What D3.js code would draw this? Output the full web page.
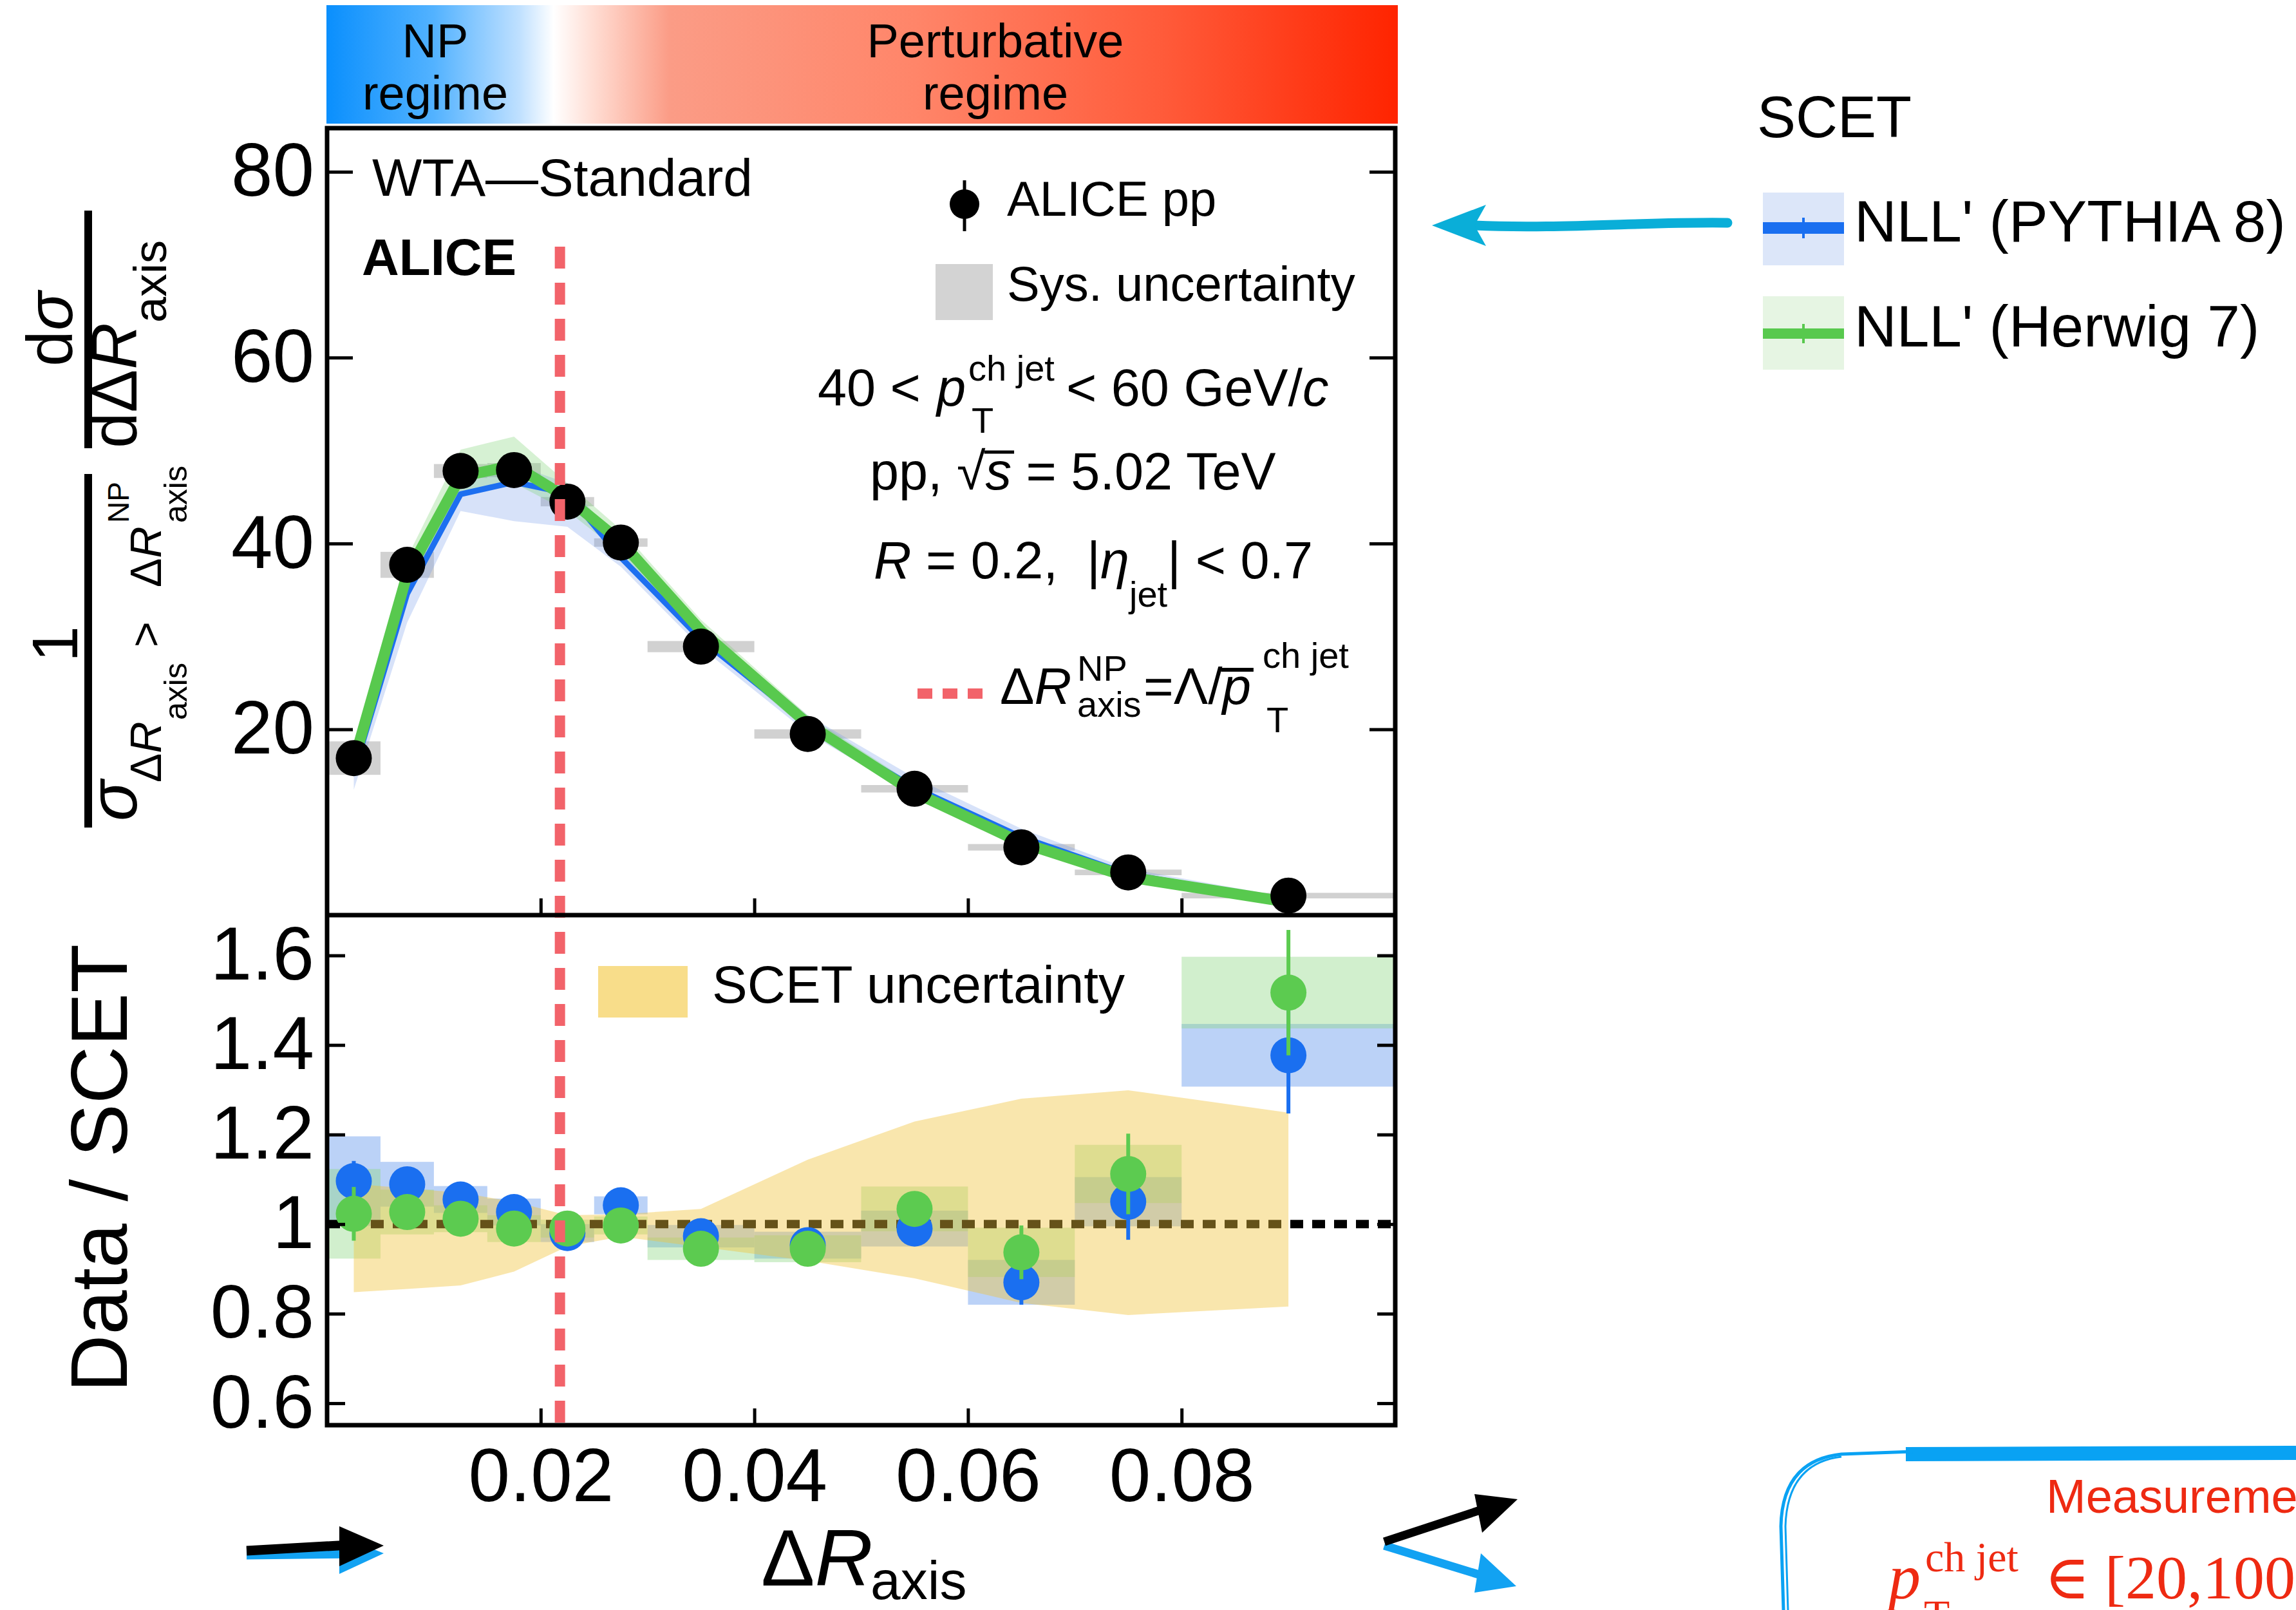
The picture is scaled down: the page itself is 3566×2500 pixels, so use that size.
<!DOCTYPE html>
<html>
<head>
<meta charset="utf-8">
<script src="https://cdn.jsdelivr.net/npm/d3@7"></script>
<style>
body { margin: 0; background: #fff; }
svg text { font-family: "Liberation Sans", Arial, Helvetica, sans-serif; fill: #000; }
</style>
</head>
<body>
<svg id="chart" width="3566" height="2500"></svg>
<script>
// Delta R_axis bins
var binLo  = [0, 0.005, 0.01, 0.015, 0.02, 0.025, 0.03, 0.04, 0.05, 0.06, 0.07, 0.08];
var binHi  = [0.005, 0.01, 0.015, 0.02, 0.025, 0.03, 0.04, 0.05, 0.06, 0.07, 0.08, 0.1];
var binMid = [0.0025, 0.0075, 0.0125, 0.0175, 0.0225, 0.0275, 0.035, 0.045, 0.055, 0.065, 0.075, 0.09];

// ALICE pp data, top panel
var alicePP  = [16.9, 37.7, 47.8, 47.9, 44.5, 40.1, 28.9, 19.5, 13.6, 7.3, 4.6, 2.1];
var aliceSys = [1.8, 1.4, 0.75, 0.75, 0.5, 0.45, 0.6, 0.5, 0.4, 0.35, 0.3, 0.3];

// SCET NLL' predictions
var pythiaMid  = [15.4, 34.6, 45.3, 46.6, 45.4, 38.5, 29.7, 20.5, 13.7, 8.4, 4.4, 1.5];
var pythiaLow  = [13.5, 31.5, 43.5, 42.4, 41.8, 37.5, 28.8, 19.6, 12.9, 7.7, 3.9, 1.2];
var pythiaHigh = [16.8, 36.5, 47.0, 48.5, 46.5, 40.0, 31.0, 21.5, 14.8, 9.3, 5.0, 1.9];
var herwigMid  = [16.5, 36.7, 47.2, 48.4, 44.9, 40.2, 30.6, 20.6, 13.2, 7.8, 4.1, 1.4];
var herwigLow  = [15.3, 35.0, 45.5, 46.5, 43.5, 39.0, 29.6, 19.8, 12.6, 7.3, 3.8, 1.1];
var herwigHigh = [18.0, 38.5, 50.1, 51.5, 46.5, 41.5, 31.8, 21.5, 14.0, 8.4, 4.6, 1.8];

// Data / SCET ratios
var ratioPythia    = [1.096, 1.089, 1.055, 1.027, 0.98, 1.042, 0.973, 0.953, 0.99, 0.87, 1.05, 1.377];
var ratioPythiaErr = [0.045, 0.03, 0.02, 0.02, 0.02, 0.02, 0.015, 0.015, 0.03, 0.05, 0.085, 0.13];
var ratioPythiaSys = [0.10, 0.05, 0.03, 0.03, 0.02, 0.02, 0.025, 0.03, 0.04, 0.05, 0.055, 0.07];
var ratioHerwig    = [1.023, 1.027, 1.012, 0.99, 0.99, 0.997, 0.945, 0.945, 1.034, 0.937, 1.112, 1.517];
var ratioHerwigErr = [0.06, 0.035, 0.02, 0.02, 0.02, 0.02, 0.015, 0.015, 0.03, 0.06, 0.09, 0.14];
var ratioHerwigSys = [0.10, 0.05, 0.03, 0.03, 0.02, 0.02, 0.025, 0.03, 0.05, 0.055, 0.065, 0.08];
var scetUncLow  = [0.848, 0.855, 0.863, 0.894, 0.95, 0.972, 0.949, 0.918, 0.879, 0.824, 0.797, 0.816];
var scetUncHigh = [1.09, 1.08, 1.07, 1.05, 1.02, 1.022, 1.034, 1.144, 1.229, 1.28, 1.299, 1.249];

var npCut = 0.0218;
var topTicks = [20, 40, 60, 80];
var ratioTicks = [0.6, 0.8, 1, 1.2, 1.4, 1.6];
var xTicks = [0.02, 0.04, 0.06, 0.08];

var svg = d3.select("#chart");
var defs = svg.append("defs");

var x = d3.scaleLinear().domain([0, 0.1]).range([508, 2167]);
var yTop = d3.scaleLinear().domain([0, 84.7]).range([1421, 199]);
var yRat = d3.scaleLinear().domain([0.551, 1.69]).range([2213, 1421]);

var ids = d3.range(binMid.length);

// ---- regime bar
var grad = defs.append("linearGradient").attr("id", "regime")
    .attr("x1", "0%").attr("x2", "100%").attr("y1", "0%").attr("y2", "0%");
[[0, "#0a8ffd"], [0.1, "#52b2ff"], [0.18, "#bfe0ff"], [0.212, "#ffffff"], [0.25, "#ffdcd2"],
 [0.32, "#fb9c86"], [0.55, "#ff8569"], [0.78, "#ff5b3a"], [1, "#ff2400"]].forEach(function(s) {
    grad.append("stop").attr("offset", s[0]).attr("stop-color", s[1]);
});
svg.append("rect").attr("x", 507).attr("y", 8).attr("width", 1664).attr("height", 184)
    .attr("fill", "url(#regime)");

function txt(px, py, s, size, o) {
    o = o || {};
    return svg.append("text").attr("x", px).attr("y", py).attr("font-size", size)
        .attr("font-style", o.italic ? "italic" : null)
        .attr("font-weight", o.bold ? "bold" : null)
        .attr("text-anchor", o.anchor || "start")
        .style("fill", o.fill || "#000")
        .text(s);
}
// two-line regime labels
function twoLines(cx, a, b, size) {
    var t = svg.append("text").attr("font-size", size).attr("text-anchor", "middle");
    t.append("tspan").attr("x", cx).attr("y", 89).text(a);
    t.append("tspan").attr("x", cx).attr("y", 170).text(b);
}
twoLines(676, "NP", "regime", 74);
twoLines(1546, "Perturbative", "regime", 74);

// ---- top panel
var gTop = svg.append("g");

gTop.selectAll("rect.sys").data(ids).enter().append("rect")
    .attr("class", "sys")
    .attr("x", function(i) { return x(binLo[i]); })
    .attr("width", function(i) { return x(binHi[i]) - x(binLo[i]); })
    .attr("y", function(i) { return yTop(alicePP[i] + aliceSys[i]); })
    .attr("height", function(i) { return yTop(alicePP[i] - aliceSys[i]) - yTop(alicePP[i] + aliceSys[i]); })
    .attr("fill", "#c9c9c9").attr("opacity", 0.85);

var band = function(lo, hi) {
    return d3.area().x(function(i) { return x(binMid[i]); })
        .y0(function(i) { return yTop(lo[i]); })
        .y1(function(i) { return yTop(hi[i]); });
};
gTop.append("path").attr("d", band(pythiaLow, pythiaHigh)(ids))
    .attr("fill", "rgb(110,150,232)").attr("opacity", 0.28);
gTop.append("path").attr("d", band(herwigLow, herwigHigh)(ids))
    .attr("fill", "rgb(120,210,110)").attr("opacity", 0.3);

var curve = function(vals) {
    return d3.line().x(function(i) { return x(binMid[i]); }).y(function(i) { return yTop(vals[i]); });
};
gTop.append("path").attr("d", curve(pythiaMid)(ids))
    .attr("fill", "none").attr("stroke", "#1d6ff0").attr("stroke-width", 9).attr("stroke-linejoin", "round");
gTop.append("path").attr("d", curve(herwigMid)(ids))
    .attr("fill", "none").attr("stroke", "#58c94e").attr("stroke-width", 17).attr("stroke-linejoin", "round");

// ---- ratio panel
var gRat = svg.append("g");

gRat.selectAll("rect.bsys").data(ids).enter().append("rect")
    .attr("x", function(i) { return x(binLo[i]); })
    .attr("width", function(i) { return x(binHi[i]) - x(binLo[i]); })
    .attr("y", function(i) { return yRat(ratioPythia[i] + ratioPythiaSys[i]); })
    .attr("height", function(i) { return yRat(ratioPythia[i] - ratioPythiaSys[i]) - yRat(ratioPythia[i] + ratioPythiaSys[i]); })
    .attr("fill", "rgb(120,165,240)").attr("opacity", 0.5);
gRat.selectAll("rect.gsys").data(ids).enter().append("rect")
    .attr("x", function(i) { return x(binLo[i]); })
    .attr("width", function(i) { return x(binHi[i]) - x(binLo[i]); })
    .attr("y", function(i) { return yRat(ratioHerwig[i] + ratioHerwigSys[i]); })
    .attr("height", function(i) { return yRat(ratioHerwig[i] - ratioHerwigSys[i]) - yRat(ratioHerwig[i] + ratioHerwigSys[i]); })
    .attr("fill", "rgb(140,215,130)").attr("opacity", 0.4);

gRat.append("line")
    .attr("x1", x(0)).attr("x2", x(0.1)).attr("y1", yRat(1)).attr("y2", yRat(1))
    .attr("stroke", "#000").attr("stroke-width", 13).attr("stroke-dasharray", "20,14");

gRat.append("path")
    .attr("d", d3.area().x(function(i) { return x(binMid[i]); })
        .y0(function(i) { return yRat(scetUncLow[i]); })
        .y1(function(i) { return yRat(scetUncHigh[i]); })(ids))
    .attr("fill", "rgb(240,195,60)").attr("opacity", 0.42);

// NP boundary
svg.append("line")
    .attr("x1", x(npCut)).attr("x2", x(npCut)).attr("y1", 383).attr("y2", 2213)
    .attr("stroke", "#f2636a").attr("stroke-width", 16).attr("stroke-dasharray", "34,22");

// ratio markers
function ratioMarks(vals, errs, col) {
    var g = gRat.append("g");
    g.selectAll("line").data(ids).enter().append("line")
        .attr("x1", function(i) { return x(binMid[i]); })
        .attr("x2", function(i) { return x(binMid[i]); })
        .attr("y1", function(i) { return yRat(vals[i] - errs[i]); })
        .attr("y2", function(i) { return yRat(vals[i] + errs[i]); })
        .attr("stroke", col).attr("stroke-width", 6);
    g.selectAll("circle").data(ids).enter().append("circle")
        .attr("cx", function(i) { return x(binMid[i]); })
        .attr("cy", function(i) { return yRat(vals[i]); })
        .attr("r", 28).attr("fill", col);
}
ratioMarks(ratioPythia, ratioPythiaErr, "#1a6ff0");
ratioMarks(ratioHerwig, ratioHerwigErr, "#5ccb50");

// data points
gTop.selectAll("circle.pt").data(ids).enter().append("circle")
    .attr("class", "pt")
    .attr("cx", function(i) { return x(binMid[i]); })
    .attr("cy", function(i) { return yTop(alicePP[i]); })
    .attr("r", 28).attr("fill", "#000");

// ---- frames and axes
function styleAxis(g, size) {
    g.select(".domain").remove();
    g.selectAll(".tick line").attr("stroke", "#000").attr("stroke-width", 5);
    g.selectAll(".tick text").attr("font-size", size)
        .style("font-family", "'Liberation Sans', Arial, sans-serif").style("fill", "#000");
}
styleAxis(svg.append("g").attr("transform", "translate(508,0)")
    .call(d3.axisLeft(yTop).tickValues(topTicks).tickSize(-40).tickPadding(20)), 116);
styleAxis(svg.append("g").attr("transform", "translate(2167,0)")
    .call(d3.axisRight(yTop).tickValues(topTicks).tickSize(-40).tickFormat("")), 116);
styleAxis(svg.append("g").attr("transform", "translate(0,1421)")
    .call(d3.axisBottom(x).tickValues(xTicks).tickSize(-26).tickFormat("")), 116);
styleAxis(svg.append("g").attr("transform", "translate(508,0)")
    .call(d3.axisLeft(yRat).tickValues(ratioTicks).tickSize(-28).tickPadding(20).tickFormat(d3.format("~g"))), 116);
styleAxis(svg.append("g").attr("transform", "translate(2167,0)")
    .call(d3.axisRight(yRat).tickValues(ratioTicks).tickSize(-28).tickFormat("")), 116);
styleAxis(svg.append("g").attr("transform", "translate(0,2213)")
    .call(d3.axisBottom(x).tickValues(xTicks).tickSize(-26).tickPadding(36)), 116);

svg.append("rect").attr("x", x(0)).attr("y", yTop.range()[1])
    .attr("width", x(0.1) - x(0)).attr("height", yRat.range()[0] - yTop.range()[1])
    .attr("fill", "none").attr("stroke", "#000").attr("stroke-width", 7);
svg.append("line").attr("x1", x(0)).attr("x2", x(0.1)).attr("y1", 1421).attr("y2", 1421)
    .attr("stroke", "#000").attr("stroke-width", 7);

// bar drawn over one character of a text element
function overbar(t, idx, y, w) {
    var n = t.node();
    var a = n.getStartPositionOfChar(idx).x, b = n.getEndPositionOfChar(idx).x;
    svg.append("line").attr("x1", a - 2).attr("x2", b + 4).attr("y1", y).attr("y2", y)
        .attr("stroke", "#000").attr("stroke-width", w);
}

// ---- top panel labels
txt(578, 304, "WTA\u2014Standard", 82);
txt(562, 427, "ALICE", 80, {bold: true});

svg.append("line").attr("x1", 1498).attr("x2", 1498).attr("y1", 280).attr("y2", 359)
    .attr("stroke", "#000").attr("stroke-width", 5);
svg.append("circle").attr("cx", 1498).attr("cy", 317).attr("r", 23).attr("fill", "#000");
txt(1564, 335, "ALICE pp", 76);
svg.append("rect").attr("x", 1453).attr("y", 410).attr("width", 89).attr("height", 87).attr("fill", "#d3d3d3");
txt(1564, 467, "Sys. uncertainty", 76);

txt(1270, 630, "40 <", 81);
txt(1455, 630, "p", 81, {italic: true});
txt(1504, 591, "ch jet", 56);
txt(1509, 672, "T", 56);
var t2 = txt(1656, 630, "< 60 GeV/", 81);
t2.append("tspan").attr("font-style", "italic").text("c");

var t3 = txt(1351, 760, "pp, \u221A", 81);
t3.append("tspan").attr("font-style", "italic").text("s");
t3.append("tspan").text(" = 5.02 TeV");
overbar(t3, 5, 702, 5);

var t4 = svg.append("text").attr("x", 1357).attr("y", 898).attr("font-size", 81);
t4.append("tspan").attr("font-style", "italic").text("R");
t4.append("tspan").text(" = 0.2,\u00A0\u00A0|");
t4.append("tspan").attr("font-style", "italic").text("\u03B7");
t4.append("tspan").attr("font-size", 56).attr("dy", 44).text("jet");
t4.append("tspan").attr("dy", -44).text("| < 0.7");

svg.append("line").attr("x1", 1425).attr("x2", 1526).attr("y1", 1077).attr("y2", 1077)
    .attr("stroke", "#f2636a").attr("stroke-width", 16).attr("stroke-dasharray", "23,16");
var t5 = txt(1553, 1093, "\u0394", 80);
t5.append("tspan").attr("font-style", "italic").text("R");
txt(1673, 1057, "NP", 56);
txt(1673, 1113, "axis", 56);
var t6 = txt(1776, 1093, "=\u039B/", 80);
t6.append("tspan").attr("font-style", "italic").text("p");
overbar(t6, 3, 1040, 6);
txt(1961, 1037, "ch jet", 56);
txt(1967, 1137, "T", 56);

// ratio legend
svg.append("rect").attr("x", 929).attr("y", 1500).attr("width", 139).attr("height", 80).attr("fill", "#f8dd8a");
txt(1106, 1557, "SCET uncertainty", 82);

// x title
var t7 = txt(1182, 2462, "\u0394", 125);
t7.append("tspan").attr("font-style", "italic").text("R");
txt(1352, 2483, "axis", 84);

// ---- rotated y titles (local x = -pageY, local y = pageX)
var yt = svg.append("g").attr("transform", "rotate(-90)");
function rtxt(px, py, s, size, anchor, italic) {
    return yt.append("text").attr("x", -py).attr("y", px).attr("font-size", size)
        .attr("text-anchor", anchor || "start")
        .attr("font-style", italic ? "italic" : null).text(s);
}
rtxt(197, 1814, "Data / SCET", 124, "middle");
var r1 = rtxt(112, 511, "d", 100, "middle");
r1.append("tspan").attr("font-style", "italic").text("\u03C3");
var r2 = rtxt(212, 696, "d\u0394", 100);
r2.append("tspan").attr("font-style", "italic").text("R");
rtxt(258, 501, "axis", 72);
rtxt(120, 1000, "1", 100, "middle");
rtxt(212, 1275, "\u03C3", 105, "start", true);
var r3 = rtxt(250, 1215, "\u0394", 68);
r3.append("tspan").attr("font-style", "italic").text("R");
rtxt(290, 1118, "axis", 50);
rtxt(250, 1005, ">", 68);
var r4 = rtxt(250, 912, "\u0394", 68);
r4.append("tspan").attr("font-style", "italic").text("R");
rtxt(200, 812, "NP", 46);
rtxt(290, 812, "axis", 50);
svg.append("line").attr("x1", 137).attr("x2", 137).attr("y1", 327).attr("y2", 696)
    .attr("stroke", "#000").attr("stroke-width", 12);
svg.append("line").attr("x1", 137).attr("x2", 137).attr("y1", 736).attr("y2", 1285)
    .attr("stroke", "#000").attr("stroke-width", 12);

// ---- SCET legend (outside)
txt(2729, 213, "SCET", 90);
svg.append("rect").attr("x", 2738).attr("y", 299).attr("width", 126).attr("height", 113).attr("fill", "#dce6f9");
svg.append("line").attr("x1", 2738).attr("x2", 2864).attr("y1", 354).attr("y2", 354)
    .attr("stroke", "#1a6ff0").attr("stroke-width", 18);
svg.append("line").attr("x1", 2801).attr("x2", 2801).attr("y1", 338).attr("y2", 370)
    .attr("stroke", "#1a6ff0").attr("stroke-width", 4);
txt(2880, 375, "NLL' (PYTHIA 8)", 91);
svg.append("rect").attr("x", 2738).attr("y", 460).attr("width", 126).attr("height", 114).attr("fill", "#e6f5e3");
svg.append("line").attr("x1", 2738).attr("x2", 2864).attr("y1", 518).attr("y2", 518)
    .attr("stroke", "#58c94e").attr("stroke-width", 16);
svg.append("line").attr("x1", 2801).attr("x2", 2801).attr("y1", 503).attr("y2", 533)
    .attr("stroke", "#58c94e").attr("stroke-width", 4);
txt(2880, 538, "NLL' (Herwig 7)", 91);

// ---- annotation arrows
svg.append("path").attr("d", "M2683,346 C2560,344 2420,356 2290,350")
    .attr("fill", "none").attr("stroke", "#0aaed8").attr("stroke-width", 15).attr("stroke-linecap", "round");
svg.append("path").attr("d", "M2224,350 L2308,318 L2290,350 L2308,382 Z").attr("fill", "#0aaed8");

svg.append("path").attr("d", "M383,2414 L560,2412").attr("stroke", "#12a2f2").attr("stroke-width", 15);
svg.append("path").attr("d", "M527,2384 L596,2412 L527,2444 Z").attr("fill", "#12a2f2");
svg.append("path").attr("d", "M383,2408 L560,2398").attr("stroke", "#000").attr("stroke-width", 15);
svg.append("path").attr("d", "M527,2370 L596,2400 L527,2432 Z").attr("fill", "#000");

svg.append("path").attr("d", "M2150,2400 L2320,2452").attr("stroke", "#12a2f2").attr("stroke-width", 13);
svg.append("path").attr("d", "M2355,2463 L2290,2473 L2300,2412 Z").attr("fill", "#12a2f2");
svg.append("path").attr("d", "M2150,2394 L2320,2338").attr("stroke", "#000").attr("stroke-width", 13);
svg.append("path").attr("d", "M2357,2328 L2302,2380 L2290,2320 Z").attr("fill", "#000");

// bottom right box
svg.append("path").attr("d", "M2960,2258 L3566,2256").attr("stroke", "#09a2f3").attr("stroke-width", 22);
svg.append("path").attr("d", "M2970,2254 L2860,2258 Q2768,2268 2766,2370 L2770,2500")
    .attr("fill", "none").attr("stroke", "#09a2f3").attr("stroke-width", 5);
svg.append("path").attr("d", "M2860,2262 Q2776,2272 2773,2370 L2777,2500")
    .attr("fill", "none").attr("stroke", "#09a2f3").attr("stroke-width", 3);
txt(3178, 2349, "Measurement", 74, {fill: "#ee2a12"});
svg.append("text").attr("x", 2933).attr("y", 2482).attr("font-size", 100).attr("font-style", "italic")
    .style("font-family", "'Liberation Serif', serif").style("fill", "#ee2a12").text("p");
svg.append("text").attr("x", 2990).attr("y", 2440).attr("font-size", 66)
    .style("font-family", "'Liberation Serif', serif").style("fill", "#ee2a12").text("ch jet");
svg.append("text").attr("x", 2988).attr("y", 2530).attr("font-size", 66)
    .style("font-family", "'Liberation Serif', serif").style("fill", "#ee2a12").text("T");
svg.append("text").attr("x", 3175).attr("y", 2482).attr("font-size", 96)
    .style("font-family", "'DejaVu Serif', serif").style("fill", "#ee2a12").text("\u2208");
svg.append("text").attr("x", 3269).attr("y", 2482).attr("font-size", 96)
    .style("font-family", "'Liberation Serif', serif").style("fill", "#ee2a12").text("[20,100] GeV/c");
</script>
</body>
</html>
